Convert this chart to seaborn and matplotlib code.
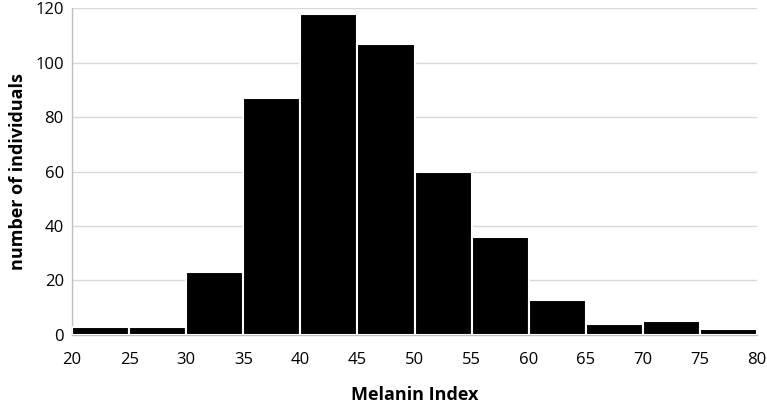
import numpy as np
import pandas as pd
import matplotlib
matplotlib.use("Agg")
import matplotlib.pyplot as plt
import seaborn as sns

bin_edges = [20, 25, 30, 35, 40, 45, 50, 55, 60, 65, 70, 75, 80]
counts = [3, 3, 23, 87, 118, 107, 60, 36, 13, 4, 5, 2]

centers = [(a + b) / 2 for a, b in zip(bin_edges[:-1], bin_edges[1:])]
df = pd.DataFrame({"melanin": centers, "n": counts})

sns.set_style("white")
plt.rcParams['font.family'] = ['Open Sans', 'DejaVu Sans']
plt.rcParams['text.color'] = 'black'
plt.rcParams['axes.labelcolor'] = 'black'

fig = plt.figure(figsize=(7.67, 4.05), dpi=100)
ax = fig.add_axes([0.094, 0.173, 0.893, 0.807])

sns.histplot(data=df, x="melanin", weights="n", bins=bin_edges, ax=ax,
             color="black", alpha=1, edgecolor="white", linewidth=1.5, zorder=3)

ax.set_xlim(20, 80)
ax.set_ylim(0, 120)
ax.set_xticks(bin_edges)
ax.set_yticks(range(0, 121, 20))
ax.yaxis.grid(True, color="#d9d9d9", linewidth=1, zorder=0)
ax.set_axisbelow(True)
ax.tick_params(axis="x", length=5, color="#bfbfbf", labelsize=12, pad=7, labelcolor="black")
ax.tick_params(axis="y", length=0, labelsize=12, pad=6, labelcolor="black")
for s in ["top", "right"]:
    ax.spines[s].set_visible(False)
for s in ["left", "bottom"]:
    ax.spines[s].set_color("#bfbfbf")
    ax.spines[s].set_linewidth(1)

ax.set_xlabel("Melanin Index", fontsize=13, fontweight="bold", labelpad=13, color="black")
ax.set_ylabel("number of individuals", fontsize=13, fontweight="bold", labelpad=6, color="black")

fig.savefig("out.png", dpi=100)
